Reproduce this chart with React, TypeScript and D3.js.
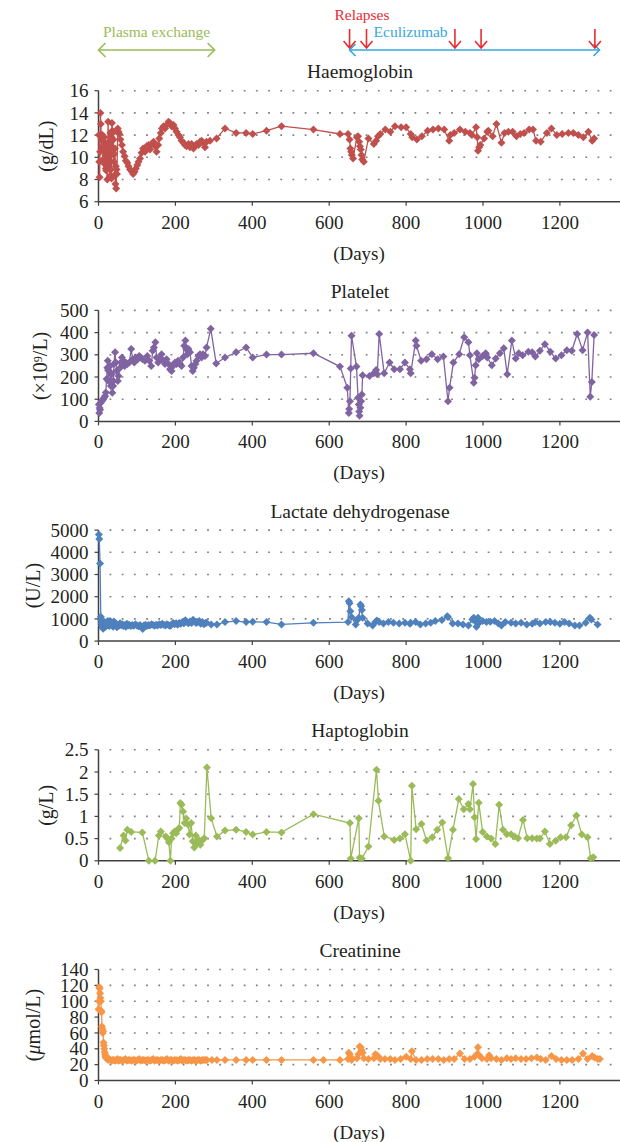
import React, { useRef, useEffect } from 'react';
import * as d3 from 'd3';

const W = 620;
const H = 1142;

// x axis (days) and top annotations
const xTicks = [0, 200, 400, 600, 800, 1000, 1200];
const relapseDays = [653, 697, 927, 995, 1291];
const plasmaExchange = [0, 302];
const eculizumab = [653, 1303];

// [day, value]
const haemoglobin: [number, number][] = [
  [1, 12], [2, 9.6], [3, 8.2], [4, 10.5], [5, 14], [6, 13], [7, 12], [8, 11.6], [9, 10.8], [10, 12],
  [11, 11], [12, 9.8], [13, 11.5], [14, 10.6], [15, 11.8], [16, 9.4], [17, 11.3], [18, 10.2], [19, 9],
  [20, 8.8], [21, 10.6], [22, 9.2], [23, 8], [24, 11], [25, 13.2], [26, 10.5], [27, 9.5], [28, 11.4],
  [29, 8.3], [30, 10.1], [31, 12.2], [32, 8.9], [33, 11.8], [34, 8.1], [35, 13.1], [36, 12.4], [37, 12.2],
  [38, 10.8], [39, 11.6], [40, 9.6], [41, 10.3], [42, 8.4], [43, 10.8], [44, 7.6], [45, 9.2], [46, 7.2],
  [47, 8.9], [48, 8.5], [50, 12.6], [52, 12.3], [54, 12.1], [57, 11.6], [61, 11.1], [64, 10.5], [68, 10.1],
  [71, 9.7], [75, 9.5], [78, 9.2], [82, 8.9], [87, 8.7], [90, 8.5], [94, 8.7], [97, 9], [101, 9.3],
  [104, 9.6], [108, 9.9], [112, 10.4], [116, 10.8], [121, 10.5], [125, 11], [130, 11.1], [134, 10.7],
  [138, 11.2], [143, 11.4], [147, 11], [151, 10.5], [155, 11.1], [158, 11.7], [162, 12.2], [165, 12.6],
  [169, 12.8], [173, 12.6], [177, 12.9], [182, 13.2], [186, 13.1], [190, 12.8], [195, 12.9], [199, 12.6],
  [203, 12.3], [208, 12], [212, 11.8], [216, 11.5], [221, 11.3], [225, 11.1], [229, 11], [234, 11.2],
  [238, 10.9], [242, 11.2], [247, 10.8], [251, 11], [255, 11.2], [260, 11.1], [264, 11.4], [268, 11.5],
  [273, 11.3], [277, 10.9], [281, 11.4], [290, 11.5], [307, 11.7], [329, 12.6], [358, 12.2], [384, 12.2],
  [401, 12.1], [437, 12.4], [476, 12.8], [559, 12.5], [628, 12.1], [649, 12.1], [653, 11.6], [655, 10.8],
  [657, 10.5], [659, 10.2], [662, 9.9], [672, 11.8], [675, 11.9], [678, 11.4], [680, 11], [682, 10.7],
  [684, 10.2], [686, 9.8], [690, 9.6], [702, 11.7], [716, 11.2], [722, 11.5], [727, 11.9], [733, 12.1],
  [746, 12.5], [759, 12.3], [771, 12.8], [787, 12.7], [800, 12.7], [812, 12.1], [816, 11.8], [828, 11.6],
  [841, 11.9], [856, 12.4], [870, 12.5], [884, 12.6], [899, 12.5], [912, 11.5], [915, 12], [925, 12.2],
  [940, 12.5], [954, 12.3], [966, 12.2], [971, 12], [982, 12.7], [985, 11.8], [987, 10.6], [990, 10.9],
  [993, 11.1], [1003, 11.7], [1011, 12.3], [1014, 12.4], [1025, 11.9], [1035, 13], [1048, 11.3],
  [1056, 12.2], [1066, 12.3], [1077, 12.3], [1087, 11.9], [1097, 12.1], [1107, 12.2], [1120, 12.5],
  [1130, 12.5], [1138, 11.5], [1150, 11.4], [1166, 12.2], [1178, 12.6], [1192, 12], [1206, 12.1],
  [1222, 12.2], [1235, 12.2], [1248, 12], [1261, 11.8], [1274, 12.3], [1284, 11.5], [1289, 11.7],
];

const platelet: [number, number][] = [
  [1, 76], [2, 38], [3, 60], [4, 53], [6, 84], [8, 91], [10, 95], [12, 100], [15, 108], [17, 114],
  [19, 130], [21, 191], [23, 242], [24, 273], [25, 230], [26, 182], [28, 227], [30, 250], [32, 159],
  [34, 212], [36, 129], [38, 160], [39, 182], [40, 258], [43, 311], [45, 265], [47, 227], [50, 182],
  [52, 205], [56, 242], [58, 265], [61, 288], [64, 273], [68, 250], [71, 265], [75, 258], [80, 265],
  [85, 326], [89, 280], [93, 265], [97, 288], [102, 280], [106, 295], [110, 288], [115, 280], [121, 273],
  [127, 295], [132, 273], [137, 250], [141, 318], [144, 333], [148, 356], [151, 288], [155, 265],
  [160, 280], [164, 303], [169, 273], [173, 258], [177, 280], [182, 258], [186, 235], [190, 227],
  [194, 250], [199, 265], [203, 258], [207, 273], [212, 258], [216, 250], [220, 288], [223, 341],
  [226, 364], [228, 326], [231, 303], [234, 326], [238, 311], [242, 250], [245, 227], [248, 242],
  [252, 258], [255, 273], [260, 295], [264, 303], [268, 288], [272, 303], [277, 295], [281, 333],
  [292, 417], [306, 261], [329, 288], [358, 311], [384, 333], [401, 288], [437, 301], [476, 301],
  [559, 307], [628, 247], [647, 152], [651, 38], [652, 56], [654, 91], [656, 238], [658, 386],
  [671, 247], [675, 106], [677, 76], [678, 45], [679, 26], [681, 61], [683, 91], [685, 121], [687, 208],
  [705, 205], [716, 217], [722, 232], [725, 212], [730, 394], [743, 217], [757, 265], [769, 235],
  [784, 235], [797, 265], [810, 235], [812, 217], [825, 364], [827, 341], [839, 273], [853, 280],
  [867, 303], [882, 280], [897, 292], [909, 91], [913, 152], [923, 265], [938, 303], [951, 379],
  [962, 356], [966, 298], [976, 174], [978, 197], [981, 253], [984, 307], [989, 280], [999, 295],
  [1007, 307], [1011, 288], [1023, 253], [1033, 283], [1044, 307], [1054, 329], [1063, 212],
  [1075, 364], [1085, 283], [1093, 307], [1103, 298], [1118, 314], [1128, 311], [1136, 292],
  [1148, 318], [1161, 348], [1175, 314], [1189, 283], [1204, 298], [1218, 321], [1231, 318],
  [1245, 394], [1259, 321], [1272, 401], [1279, 111], [1283, 177], [1289, 389],
];

const ldh: [number, number][] = [
  [1, 4800], [2, 4600], [4, 3500], [6, 1100], [7, 950], [8, 800], [9, 700], [10, 620], [12, 560],
  [13, 680], [14, 880], [16, 750], [18, 650], [20, 820], [22, 700], [24, 900], [26, 760], [28, 680],
  [30, 900], [32, 850], [34, 720], [36, 800], [38, 650], [40, 880], [42, 760], [44, 820], [46, 700],
  [48, 620], [50, 740], [53, 690], [56, 800], [59, 710], [62, 760], [65, 680], [68, 720], [71, 650],
  [74, 780], [77, 700], [80, 740], [84, 680], [88, 720], [92, 690], [96, 760], [100, 700], [104, 670],
  [108, 720], [112, 640], [115, 540], [118, 700], [122, 740], [126, 680], [130, 720], [134, 700],
  [138, 760], [142, 720], [146, 690], [150, 740], [154, 700], [158, 760], [162, 720], [166, 780],
  [170, 740], [174, 700], [178, 760], [182, 720], [186, 680], [190, 740], [194, 820], [198, 760],
  [202, 800], [206, 740], [210, 820], [214, 780], [218, 860], [222, 800], [226, 940], [230, 860],
  [234, 800], [238, 880], [242, 820], [246, 960], [250, 880], [254, 820], [258, 860], [262, 900],
  [266, 780], [270, 860], [274, 760], [278, 820], [281, 825], [293, 750], [308, 750], [329, 855],
  [358, 900], [384, 855], [401, 870], [437, 855], [476, 750], [559, 825], [649, 855], [651, 1800],
  [653, 1700], [655, 1350], [658, 1080], [669, 750], [673, 945], [677, 1050], [681, 1650], [683, 1575],
  [685, 1400], [687, 1050], [700, 795], [713, 705], [720, 855], [724, 930], [730, 855], [741, 795],
  [754, 855], [767, 825], [782, 795], [797, 825], [810, 780], [812, 825], [825, 855], [837, 750],
  [851, 795], [864, 825], [876, 900], [893, 945], [907, 1125], [909, 1080], [921, 795], [935, 795],
  [948, 750], [962, 705], [972, 975], [976, 1050], [979, 900], [983, 645], [987, 1050], [990, 825],
  [999, 900], [1009, 855], [1019, 870], [1030, 900], [1040, 795], [1048, 705], [1058, 855], [1073, 825],
  [1085, 795], [1099, 825], [1114, 750], [1128, 780], [1136, 855], [1148, 795], [1163, 855], [1175, 855],
  [1187, 825], [1200, 780], [1212, 855], [1224, 795], [1239, 705], [1251, 705], [1267, 825], [1278, 1050],
  [1282, 975], [1298, 750],
];

const haptoglobin: [number, number][] = [
  [56, 0.29], [65, 0.57], [70, 0.46], [75, 0.7], [85, 0.65], [114, 0.64], [131, 0], [147, 0], [157, 0.57],
  [162, 0.66], [175, 0.55], [179, 0.5], [183, 0.42], [187, 0], [190, 0.5], [194, 0.62], [198, 0.66],
  [202, 0.62], [206, 0.7], [210, 0.74], [213, 1.3], [216, 1.26], [220, 1.11], [224, 0.85], [228, 0.95],
  [233, 0.81], [237, 0.59], [241, 0.85], [245, 0.44], [249, 0.3], [253, 0.57], [257, 0.4], [261, 0.47],
  [265, 0.36], [269, 0.45], [275, 0.51], [282, 2.1], [293, 0.96], [308, 0.55], [329, 0.68], [358, 0.7],
  [384, 0.65], [401, 0.59], [437, 0.65], [476, 0.64], [559, 1.05], [654, 0.85], [656, 0.05], [677, 0.96],
  [679, 0.07], [685, 0.05], [702, 0.32], [723, 2.05], [728, 1.35], [743, 0.55], [769, 0.47], [784, 0.5],
  [797, 0.6], [812, 0], [815, 1.69], [826, 0.71], [840, 0.83], [853, 0.46], [868, 0.53], [881, 0.7],
  [894, 0.86], [909, 0.06], [922, 0.7], [937, 1.39], [950, 1.16], [962, 1.28], [966, 1.16], [974, 1.73],
  [978, 0.98], [982, 0.49], [989, 1.31], [999, 0.65], [1010, 0.55], [1021, 0.5], [1032, 0.38],
  [1042, 1.26], [1052, 0.7], [1062, 0.6], [1073, 0.6], [1082, 0.55], [1091, 0.51], [1104, 0.92],
  [1115, 0.51], [1128, 0.51], [1140, 0.5], [1148, 0.5], [1161, 0.66], [1174, 0.38], [1189, 0.45],
  [1202, 0.53], [1216, 0.53], [1229, 0.8], [1243, 1.02], [1257, 0.59], [1272, 0.53], [1280, 0.06],
  [1287, 0.08],
];

const creatinine: [number, number][] = [
  [0, 90], [1, 100], [2, 118], [3, 116], [4, 110], [5, 104], [6, 100], [7, 88], [8, 86], [9, 68],
  [10, 65], [11, 60], [12, 62], [13, 48], [14, 44], [15, 40], [16, 36], [17, 33], [18, 31], [19, 29],
  [21, 28], [23, 27], [25, 26], [28, 27], [31, 26], [34, 25], [37, 26], [40, 26], [43, 25], [46, 26],
  [49, 27], [52, 25], [55, 26], [58, 26], [62, 25], [66, 26], [70, 27], [74, 25], [78, 26], [82, 26],
  [86, 25], [90, 26], [94, 26], [98, 25], [102, 26], [106, 27], [110, 25], [114, 26], [118, 26],
  [122, 25], [126, 26], [130, 26], [134, 25], [138, 26], [142, 27], [146, 25], [150, 26], [154, 26],
  [158, 25], [162, 26], [166, 26], [170, 25], [174, 26], [178, 27], [182, 25], [186, 26], [190, 26],
  [194, 25], [198, 26], [202, 26], [206, 25], [210, 26], [214, 27], [218, 25], [222, 26], [226, 26],
  [230, 25], [234, 26], [238, 26], [242, 25], [246, 26], [250, 26], [254, 25], [258, 26], [262, 26],
  [266, 25], [270, 26], [274, 26], [278, 26], [282, 26], [295, 26], [308, 26], [329, 26], [358, 26],
  [384, 26], [401, 26], [437, 26], [476, 26], [559, 26], [585, 26], [628, 26], [649, 27], [651, 35],
  [653, 33], [655, 30], [658, 26], [672, 28], [676, 33], [679, 43], [682, 42], [684, 38], [687, 35],
  [690, 28], [702, 27], [716, 28], [720, 33], [724, 32], [728, 30], [733, 27], [745, 27], [759, 27],
  [771, 26], [786, 27], [800, 30], [812, 27], [815, 37], [826, 26], [840, 26], [855, 27], [869, 27],
  [884, 27], [898, 26], [912, 27], [925, 27], [940, 34], [952, 27], [966, 27], [978, 30], [984, 33],
  [987, 42], [990, 32], [997, 28], [1010, 27], [1016, 32], [1021, 28], [1035, 27], [1048, 26],
  [1062, 28], [1073, 27], [1085, 28], [1099, 27], [1112, 27], [1126, 28], [1140, 29], [1150, 27],
  [1163, 26], [1178, 31], [1190, 27], [1204, 26], [1218, 26], [1232, 26], [1248, 27], [1260, 34],
  [1272, 27], [1284, 31], [1290, 29], [1298, 27], [1304, 27],
];

type Part = { t: string; italic?: boolean; sup?: boolean };

const panels = [
  { title: 'Haemoglobin', unit: [{ t: '(g/dL)' }] as Part[], labelX: 53, data: haemoglobin, domain: [6, 16], ticks: [6, 8, 10, 12, 14, 16], color: '#c0504d' },
  { title: 'Platelet', unit: [{ t: '(×10' }, { t: '9', sup: true }, { t: '/L)' }] as Part[], labelX: 47, data: platelet, domain: [0, 500], ticks: [0, 100, 200, 300, 400, 500], color: '#8064a2' },
  { title: 'Lactate dehydrogenase', unit: [{ t: '(U/L)' }] as Part[], labelX: 40, data: ldh, domain: [0, 5000], ticks: [0, 1000, 2000, 3000, 4000, 5000], color: '#4f81bd' },
  { title: 'Haptoglobin', unit: [{ t: '(g/L)' }] as Part[], labelX: 53, data: haptoglobin, domain: [0, 2.5], ticks: [0, 0.5, 1, 1.5, 2, 2.5], color: '#9bbb59' },
  { title: 'Creatinine', unit: [{ t: '(' }, { t: 'μ', italic: true }, { t: 'mol/L)' }] as Part[], labelX: 40, data: creatinine, domain: [0, 140], ticks: [0, 20, 40, 60, 80, 100, 120, 140], color: '#f79646' },
];

const FONT = '"Liberation Serif", "Times New Roman", serif';

const App = () => {
  const ref = useRef<SVGSVGElement>(null);

  useEffect(() => {
    const svg = d3.select(ref.current);
    svg.selectAll('*').remove();

    const x0 = 98.5;
    const x = d3.scaleLinear().domain([0, 1400]).range([x0, x0 + 1400 * 0.3845]);
    const diamond = 'M0,-4L4,0L0,4L-4,0Z';

    panels.forEach((p, i) => {
      const top = 90.7 + i * 219.7;
      const bottom = top + 111;
      const y = d3.scaleLinear().domain(p.domain).range([bottom, top]);
      const g = svg.append('g').attr('font-family', FONT).attr('fill', '#231f20');

      // dotted gridlines
      g.selectAll('line.grid')
        .data(p.ticks.slice(1))
        .join('line')
        .attr('class', 'grid')
        .attr('x1', x0 + 11)
        .attr('x2', W)
        .attr('y1', d => y(d))
        .attr('y2', d => y(d))
        .attr('stroke', '#808080')
        .attr('stroke-width', 1.6)
        .attr('stroke-dasharray', '1.8 10.4');

      // axes
      g.append('line').attr('x1', x0).attr('x2', x0).attr('y1', top).attr('y2', bottom)
        .attr('stroke', '#404040').attr('stroke-width', 1.5);
      g.append('line').attr('x1', x0).attr('x2', W).attr('y1', bottom).attr('y2', bottom)
        .attr('stroke', '#404040').attr('stroke-width', 1.5);

      g.selectAll('line.yt').data(p.ticks).join('line').attr('class', 'yt')
        .attr('x1', x0 - 4).attr('x2', x0).attr('y1', d => y(d)).attr('y2', d => y(d))
        .attr('stroke', '#404040').attr('stroke-width', 1.2);
      g.selectAll('text.yl').data(p.ticks).join('text').attr('class', 'yl')
        .attr('x', x0 - 10).attr('y', d => y(d)).attr('dy', '0.35em')
        .attr('text-anchor', 'end').attr('font-size', 19)
        .text(d => String(d));

      g.selectAll('line.xt').data(xTicks).join('line').attr('class', 'xt')
        .attr('x1', d => x(d)).attr('x2', d => x(d)).attr('y1', bottom).attr('y2', bottom + 4)
        .attr('stroke', '#404040').attr('stroke-width', 1.2);
      g.selectAll('text.xl').data(xTicks).join('text').attr('class', 'xl')
        .attr('x', d => x(d)).attr('y', bottom + 27)
        .attr('text-anchor', 'middle').attr('font-size', 19)
        .text(d => String(d));

      g.append('text').attr('x', 359).attr('y', bottom + 58).attr('text-anchor', 'middle')
        .attr('font-size', 19).text('(Days)');
      g.append('text').attr('x', 360).attr('y', top - 12.5).attr('text-anchor', 'middle')
        .attr('font-size', 19.5).text(p.title);

      const yl = g.append('text')
        .attr('transform', `translate(${p.labelX},${(top + bottom) / 2}) rotate(-90)`)
        .attr('text-anchor', 'middle').attr('font-size', 20);
      p.unit.forEach(u => {
        const ts = yl.append('tspan').text(u.t);
        if (u.italic) ts.attr('font-style', 'italic');
        if (u.sup) ts.attr('font-size', 12).attr('baseline-shift', '45%');
      });

      // series
      const line = d3.line<[number, number]>().x(d => x(d[0])).y(d => y(d[1]));
      g.append('path').datum(p.data).attr('d', line)
        .attr('fill', 'none').attr('stroke', p.color).attr('stroke-width', 1.3);
      g.selectAll('path.m').data(p.data).join('path').attr('class', 'm')
        .attr('d', diamond)
        .attr('transform', d => `translate(${x(d[0])},${y(d[1])})`)
        .attr('fill', p.color);
    });

    // annotations
    const ay = 50;
    const ann = svg.append('g').attr('font-family', FONT).attr('font-size', 15.5);

    const green = '#9bbb59';
    const px0 = x(plasmaExchange[0]);
    const px1 = x(plasmaExchange[1]);
    ann.append('line').attr('x1', px0).attr('x2', px1).attr('y1', ay).attr('y2', ay)
      .attr('stroke', green).attr('stroke-width', 1.6);
    ann.append('path').attr('d', `M${px0 + 7},${ay - 7}L${px0},${ay}L${px0 + 7},${ay + 7}M${px1 - 7},${ay - 7}L${px1},${ay}L${px1 - 7},${ay + 7}`)
      .attr('fill', 'none').attr('stroke', green).attr('stroke-width', 1.6);
    ann.append('text').attr('x', (px0 + px1) / 2).attr('y', 37).attr('text-anchor', 'middle')
      .attr('fill', green).text('Plasma exchange');

    const blue = '#35a8e0';
    const ex0 = x(eculizumab[0]);
    const ex1 = x(eculizumab[1]);
    ann.append('line').attr('x1', ex0).attr('x2', ex1).attr('y1', ay).attr('y2', ay)
      .attr('stroke', blue).attr('stroke-width', 1.6);
    ann.append('path').attr('d', `M${ex0 + 6},${ay - 6}L${ex0},${ay}L${ex0 + 6},${ay + 6}M${ex1 - 6},${ay - 6}L${ex1},${ay}L${ex1 - 6},${ay + 6}`)
      .attr('fill', 'none').attr('stroke', blue).attr('stroke-width', 1.6);
    ann.append('text').attr('x', ex0 + 24).attr('y', 37).attr('fill', blue).text('Eculizumab');

    const red = '#ec2a30';
    ann.append('text').attr('x', 362).attr('y', 20).attr('text-anchor', 'middle')
      .attr('fill', red).text('Relapses');
    ann.selectAll('path.arrow').data(relapseDays).join('path').attr('class', 'arrow')
      .attr('d', d => {
        const ax = x(d);
        return `M${ax},29L${ax},48M${ax - 6},41L${ax},48L${ax + 6},41`;
      })
      .attr('fill', 'none').attr('stroke', red).attr('stroke-width', 1.6);

    return () => {
      svg.selectAll('*').remove();
    };
  }, []);

  return (
    <svg
      ref={ref}
      width={W}
      height={H}
      style={{ position: 'absolute', left: 0, top: 0, background: '#fff' }}
    />
  );
};

export default App;
